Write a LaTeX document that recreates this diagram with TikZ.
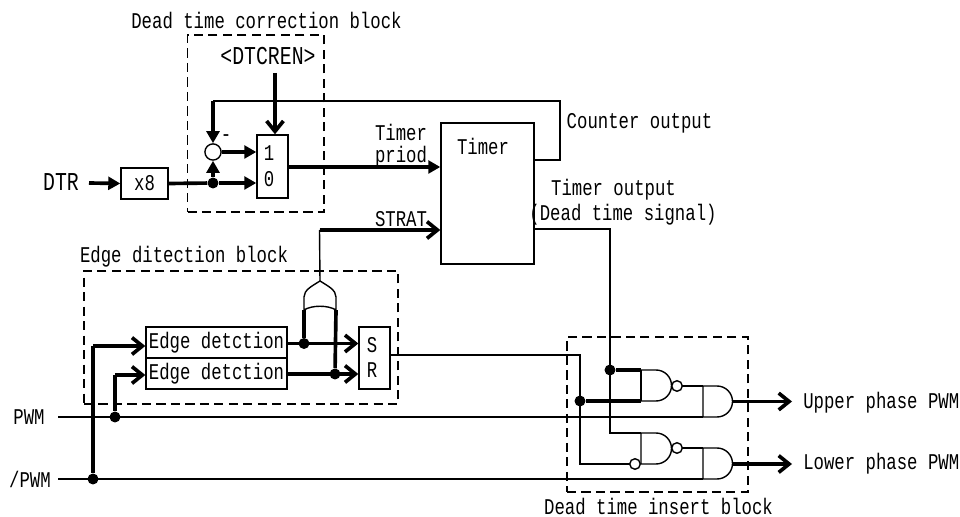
\documentclass[tikz,border=0pt]{standalone}
\usepackage{fontspec}
\setmonofont[FakeStretch=0.77]{Liberation Mono}
\usetikzlibrary{arrows.meta}

\begin{document}
\begin{tikzpicture}[
    x=0.025cm,y=-0.025cm,
    lbl/.style={inner sep=0pt,font=\fontsize{16}{18}\selectfont\ttfamily},
    biglbl/.style={inner sep=0pt,font=\fontsize{18.3}{21}\selectfont\ttfamily},
    blk/.style={rectangle,draw,line width=1pt,inner sep=0pt,font=\fontsize{16}{18}\selectfont\ttfamily},
    dashbox/.style={rectangle,draw,line width=0.9pt,dash pattern=on 6.5pt off 3.8pt,inner sep=0pt},
    dot/.style={circle,fill,inner sep=0pt,minimum size=7.8pt},
    bub/.style={circle,draw,fill=white,line width=1pt,inner sep=0pt,minimum size=7.5pt},
    sig/.style={line width=1pt},
    thk/.style={line width=2.6pt},
    arr/.style={thk,-{Triangle[length=3mm,width=3.2mm]}},
    vee/.style={thk,-{Straight Barb[length=2.6mm,width=4.2mm]}},
    gate/.style={line width=1pt,line join=round},
]
\useasboundingbox (0,0) rectangle (960,517);

% Dead time correction
\node[dashbox,minimum width=136.5*0.025cm,minimum height=177*0.025cm] (dtcblk) at (255.75,123.5) {};
\node[lbl] (dtctitle) at (266.5,20) {Dead time correction block};
\node[biglbl] (dtcren) at (268,56) {<DTCREN>};
\node[biglbl] (dtr) at (61,182) {DTR};
\node[blk,minimum width=47*0.025cm,minimum height=31*0.025cm] (x8) at (144.5,183.5) {x8};
\node[blk,minimum width=31*0.025cm,minimum height=63*0.025cm] (mux) at (272.5,166.5) {};
\node[lbl] (one) at (269,153) {1};
\node[lbl] (zero) at (269,179) {0};
\node[bub,minimum size=11.5pt] (sum) at (213,152) {};
\node[dot] (dtrdot) at (213,183) {};
\node[lbl] (minus) at (226,138) {-};
\coordinate (dtrout) at (89,183);
\draw[arr] (dtrout) -- (x8.west);
\draw[thk] (x8.east) -- (dtrdot);
\draw[arr] (dtrdot) -- (mux.west |- dtrdot);
\draw[arr] (dtrdot) -- (sum);
\draw[arr] (sum) -- (mux.west |- sum);
\coordinate (enin) at (275,73);
\draw[vee] (enin) -- (enin |- mux.north);

% Timer
\node[blk,minimum width=93*0.025cm,minimum height=141*0.025cm] (timer) at (487.5,193.5) {};
\node[lbl] (timername) at (483,146) {Timer};
\node[lbl] (prd1) at (401,132) {Timer};
\node[lbl] (prd2) at (401,157) {priod};
\node[lbl] (strat) at (401,219) {STRAT};
\node[lbl] (cntout) at (639.5,123) {Counter output};
\node[lbl] (tmout1) at (613.5,190) {Timer output};
\node[lbl] (tmout2) at (623,215) {(Dead time signal)};
\coordinate (muxout) at (288,167);
\coordinate (fbcorner) at (213,101);
\coordinate (fbright) at (560,101);
\coordinate (fbin) at (534,160);
\coordinate (fblow) at (560,160);
\draw[arr] (muxout) -- (muxout -| timer.west);
\draw[arr] (fbcorner) -- (sum);
\draw[sig,line width=1.3pt] (fbcorner) -- (fbright) -- (fblow) -- (fbin);

% Edge detection
\node[dashbox,minimum width=314*0.025cm,minimum height=133*0.025cm] (edgeblk) at (241,337.5) {};
\node[lbl] (edgetitle) at (184,257) {Edge ditection block};
\node[blk,minimum width=141*0.025cm,minimum height=31*0.025cm] (edgea) at (216.5,342.5) {Edge detction\hspace{3pt}};
\node[blk,minimum width=141*0.025cm,minimum height=31*0.025cm] (edgeb) at (216.5,373.5) {Edge detction\hspace{3pt}};
\node[blk,minimum width=31*0.025cm,minimum height=62*0.025cm] (sr) at (374.5,358) {};
\node[lbl] (setlbl) at (372,345) {S};
\node[lbl] (rstlbl) at (372,370) {R};
\node[dot] (seta) at (304,343.5) {};
\node[dot] (setb) at (335,374) {};
\coordinate (ortip) at (320,281);
\coordinate (orl) at (304,310);
\coordinate (orr) at (336,310);
\draw[gate] (orl) -- (304,297) .. controls (304,290) and (312,286) .. (ortip) .. controls (328,286) and (336,290) .. (336,297) -- (orr) .. controls (328,305) and (312,305) .. (orl);
\coordinate (stratcorner) at (319.5,230);
\draw[sig] (ortip) -- (stratcorner);
\draw[vee] (stratcorner) -- (stratcorner -| timer.west);
\draw[thk] (seta) -- (orl);
\draw[thk] (setb) -- (orr);
\draw[vee] (edgea.east |- seta) -- (sr.west |- seta);
\draw[vee] (edgeb.east |- setb) -- (sr.west |- setb);

% Inputs
\node[lbl] (pwm) at (29,417) {PWM};
\node[lbl] (npwm) at (30,479) {/PWM};
\node[dot] (pwmdot) at (115,417) {};
\node[dot] (npwmdot) at (93,479) {};
\coordinate (pwma) at (93,346);
\coordinate (pwmb) at (115,375);
\draw[thk] (npwmdot) -- (pwma);
\draw[thk] (pwmdot) -- (pwmb);
\draw[vee] (pwma) -- (pwma -| edgea.west);
\draw[vee] (pwmb) -- (pwmb -| edgeb.west);

% Dead time insert
\node[dashbox,minimum width=181*0.025cm,minimum height=155*0.025cm] (insblk) at (657.5,414.5) {};
\node[lbl] (instotitle) at (658.5,506.5) {Dead time insert block};
\node[dot] (srdot) at (580,401) {};
\node[dot] (tmdot) at (610,370) {};
\coordinate (nanda) at (641,370);
\coordinate (nandab) at (641,401);
\coordinate (nandb) at (641,433);
\coordinate (nandbb) at (641,464);
\coordinate (anda) at (703,386);
\coordinate (andab) at (703,417);
\coordinate (andb) at (703,448);
\coordinate (andbb) at (703,479);
\draw[gate] (nanda) -- (656,370) arc (-90:90:15.5) -- (nandab) -- cycle;
\draw[gate] (nandb) -- (656,433) arc (-90:90:15.5) -- (nandbb) -- cycle;
\draw[gate] (anda) -- (717,386) arc (-90:90:15.5) -- (andab) -- cycle;
\draw[gate] (andb) -- (717,448) arc (-90:90:15.5) -- (andbb) -- cycle;
\coordinate (srcorner) at (580,355);
\coordinate (tmcorner) at (610,229);
\coordinate (tmlow) at (610,433);
\coordinate (srlow) at (580,464);
\coordinate (srout) at (390,355);
\coordinate (tmstart) at (534,229);
\coordinate (pwmstart) at (58,417);
\coordinate (npwmstart) at (58,479);
\draw[sig] (srout) -- (srcorner) -- (srlow) -- (635,464);
\draw[sig] (tmstart) -- (tmcorner) -- (tmlow) -- (nandb);
\draw[thk] (srdot) -- (nandab);
\draw[thk] (tmdot) -- (nanda);
\draw[thk,line width=1.6pt] (nanda) -- (nandab);
\draw[sig] (677,386) -- (anda);
\draw[sig] (677,448) -- (andb);
\draw[sig] (pwmstart) -- (andab);
\draw[sig] (npwmstart) -- (andbb);
\node[bub] (buba) at (677,386) {};
\node[bub] (bubb) at (677,448) {};
\node[bub] (bubc) at (635,464) {};

% Outputs
\node[lbl,anchor=west] (upper) at (803,402.5) {Upper phase PWM};
\node[lbl,anchor=west] (lower) at (803,463.5) {Lower phase PWM};
\coordinate (andaout) at (733,401.5);
\coordinate (andbout) at (733,464);
\coordinate (upperend) at (792,401.5);
\coordinate (lowerend) at (792,464);
\draw[vee] (andaout) -- (upperend);
\draw[vee] (andbout) -- (lowerend);
\end{tikzpicture}
\end{document}
